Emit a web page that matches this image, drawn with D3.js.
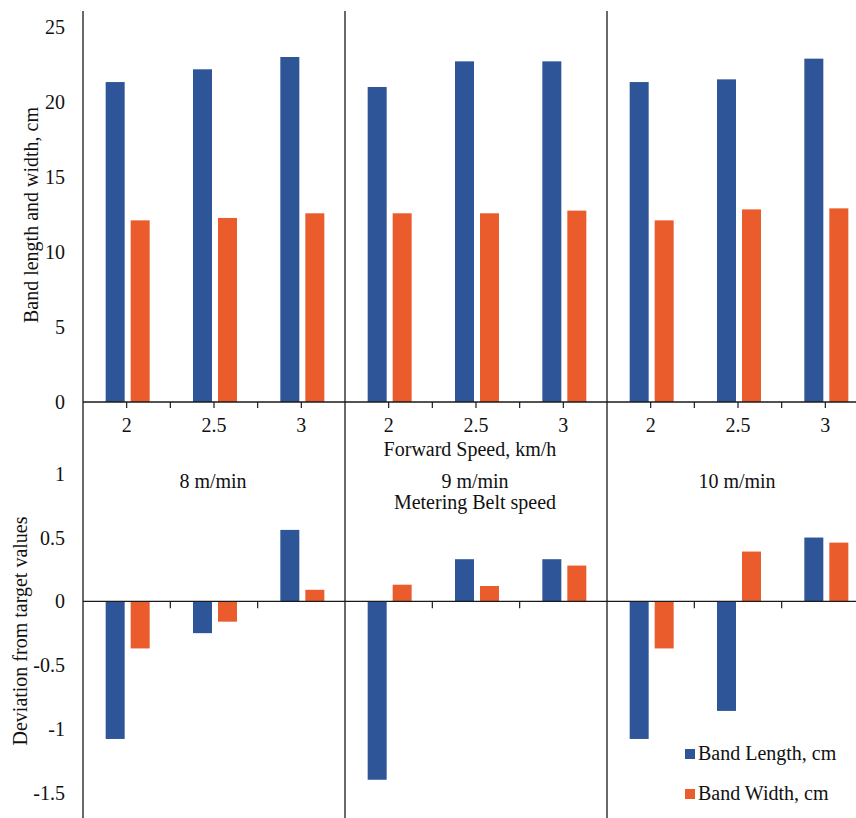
<!DOCTYPE html>
<html>
<head>
<meta charset="utf-8">
<script src="https://cdn.jsdelivr.net/npm/d3@7/dist/d3.min.js"></script>
<style>
  html, body { margin: 0; padding: 0; background: #fff; }
  svg { display: block; }
</style>
</head>
<body>
<svg id="chart" width="856" height="818"></svg>
<script>
// ---- data ----
const beltSpeeds = ["8 m/min", "9 m/min", "10 m/min"];
const forwardSpeeds = ["2", "2.5", "3"];
const seriesNames = ["Band Length, cm", "Band Width, cm"];
const seriesColors = ["#2D5597", "#EB5C2D"];

// top chart: band length / width (cm), per belt speed, per forward speed
const bandLength = [
  [21.33, 22.18, 23.00],
  [21.00, 22.71, 22.71],
  [21.33, 21.51, 22.89]
];
const bandWidth = [
  [12.11, 12.27, 12.58],
  [12.58, 12.58, 12.76],
  [12.11, 12.84, 12.91]
];
// bottom chart: deviation from target values
const devLength = [
  [-1.08, -0.25, 0.56],
  [-1.40, 0.33, 0.33],
  [-1.08, -0.86, 0.50]
];
const devWidth = [
  [-0.37, -0.16, 0.09],
  [0.13, 0.12, 0.28],
  [-0.37, 0.39, 0.46]
];
const topTicks = [0, 5, 10, 15, 20, 25];
const botTicks = [-1.5, -1, -0.5, 0, 0.5, 1];

// ---- layout ----
const W = 856, H = 818;
const left = 83, panelW = 262;
const svg = d3.select("#chart");
const fontSize = 20;
const txt = (sel) => sel.style("font-family", '"Liberation Serif"')
  .style("font-size", fontSize + "px").style("fill", "#111");

const xPanel = d3.scaleBand().domain(beltSpeeds).range([left, left + panelW * 3]).padding(0);
const xCat = d3.scaleBand().domain(forwardSpeeds).range([0, panelW]).padding(0);
const xSer = d3.scaleBand().domain(seriesNames).range([-21, 23]).paddingInner(0.24).paddingOuter(0);

const yTop = d3.scaleLinear().domain([0, 25]).range([402, 27]);
const yBot = d3.scaleLinear().domain([-1.5, 1]).range([792.5, 473.8]);

function records(a, b) {
  const out = [];
  beltSpeeds.forEach((bs, i) => {
    forwardSpeeds.forEach((fs, j) => {
      out.push({ belt: bs, fwd: fs, series: seriesNames[0], value: a[i][j] });
      out.push({ belt: bs, fwd: fs, series: seriesNames[1], value: b[i][j] });
    });
  });
  return out;
}
const topData = records(bandLength, bandWidth);
const botData = records(devLength, devWidth);
const color = d3.scaleOrdinal().domain(seriesNames).range(seriesColors);
const cx = d => xPanel(d.belt) + xCat(d.fwd) + xCat.bandwidth() / 2;

// bars top
svg.append("g").selectAll("rect").data(topData).join("rect")
  .attr("x", d => cx(d) + xSer(d.series))
  .attr("width", xSer.bandwidth())
  .attr("y", d => yTop(d.value))
  .attr("height", d => yTop(0) - yTop(d.value))
  .attr("fill", d => color(d.series));

// bars bottom
svg.append("g").selectAll("rect").data(botData).join("rect")
  .attr("x", d => cx(d) + xSer(d.series))
  .attr("width", xSer.bandwidth())
  .attr("y", d => yBot(Math.max(0, d.value)))
  .attr("height", d => Math.abs(yBot(d.value) - yBot(0)))
  .attr("fill", d => color(d.series));

const lineColor = "#1a1a1a";
[yTop(0), yBot(0)].forEach(y => {
  svg.append("line").attr("x1", left).attr("x2", W).attr("y1", y).attr("y2", y)
    .attr("stroke", lineColor).attr("stroke-width", 1.3);
});
beltSpeeds.forEach(bs => {
  svg.append("line").attr("x1", xPanel(bs)).attr("x2", xPanel(bs)).attr("y1", 11).attr("y2", H)
    .attr("stroke", lineColor).attr("stroke-width", 1.3);
});

// x ticks and labels
beltSpeeds.forEach(bs => {
  forwardSpeeds.forEach((fs, j) => {
    const c = xPanel(bs) + xCat(fs) + xCat.bandwidth() / 2;
    svg.append("line").attr("x1", c).attr("x2", c).attr("y1", yTop(0)).attr("y2", yTop(0) + 6)
      .attr("stroke", lineColor).attr("stroke-width", 1.2);
    if (j > 0) {
      const b = xPanel(bs) + xCat(fs);
      svg.append("line").attr("x1", b).attr("x2", b).attr("y1", yTop(0)).attr("y2", yTop(0) + 6)
        .attr("stroke", lineColor).attr("stroke-width", 1.2);
      svg.append("line").attr("x1", b).attr("x2", b).attr("y1", yBot(0)).attr("y2", yBot(0) + 7)
        .attr("stroke", lineColor).attr("stroke-width", 1.2);
    }
    svg.append("text").attr("x", c).attr("y", 432).attr("text-anchor", "middle")
      .call(txt).text(fs);
  });
});

// y tick labels
svg.append("g").selectAll("text").data(topTicks).join("text")
  .attr("x", 65).attr("y", d => yTop(d)).attr("dy", "0.35em")
  .attr("text-anchor", "end").call(txt).text(d => d);
svg.append("g").selectAll("text").data(botTicks).join("text")
  .attr("x", 65).attr("y", d => yBot(d)).attr("dy", "0.35em")
  .attr("text-anchor", "end").call(txt).text(d => d);

// axis titles
svg.append("text").attr("transform", "translate(38,215) rotate(-90)")
  .attr("text-anchor", "middle").call(txt).text("Band length and width, cm");
svg.append("text").attr("transform", "translate(27,631) rotate(-90)")
  .attr("text-anchor", "middle").call(txt).text("Deviation from target values");

svg.append("text").attr("x", 470).attr("y", 456).attr("text-anchor", "middle")
  .call(txt).text("Forward Speed, km/h");

beltSpeeds.forEach(bs => {
  svg.append("text").attr("x", xPanel(bs) + panelW / 2 - 1).attr("y", 488).attr("text-anchor", "middle")
    .call(txt).text(bs);
});
svg.append("text").attr("x", xPanel(beltSpeeds[1]) + panelW / 2 - 1).attr("y", 509).attr("text-anchor", "middle")
  .call(txt).text("Metering Belt speed");

// legend
const legend = svg.append("g").selectAll("g").data(seriesNames).join("g")
  .attr("transform", (d, i) => `translate(685, ${749 + i * 40})`);
legend.append("rect").attr("width", 10).attr("height", 10).attr("fill", d => color(d));
legend.append("text").attr("x", 13).attr("y", 11).call(txt).text(d => d);
</script>
</body>
</html>
